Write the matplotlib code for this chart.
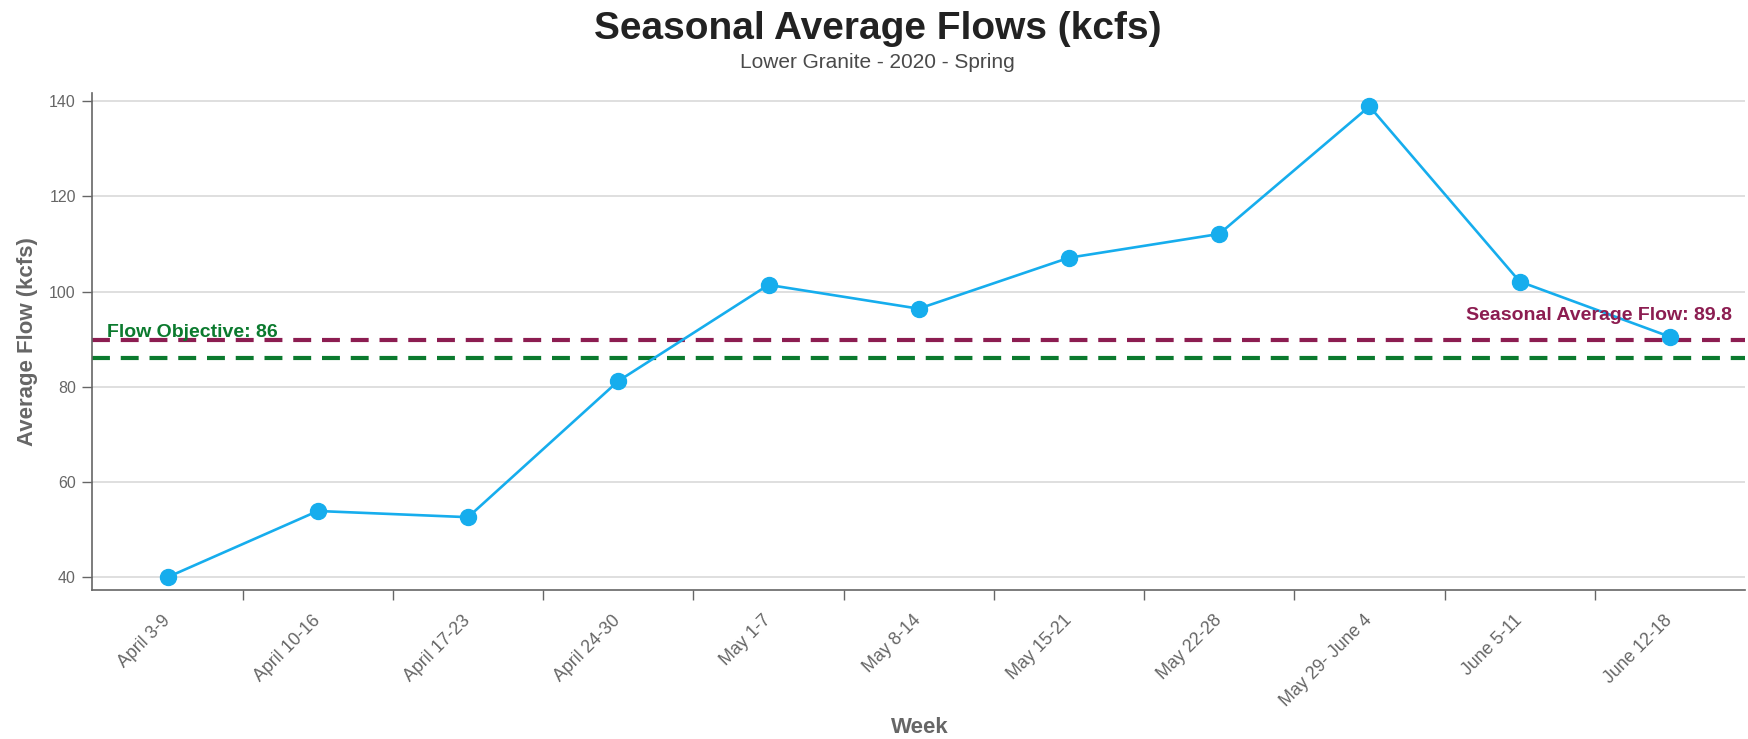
import matplotlib
matplotlib.use('Agg')
import matplotlib.pyplot as plt
from matplotlib.ticker import FixedLocator

plt.rcParams['font.family'] = ['Liberation Sans', 'DejaVu Sans']

# data
weeks = ['April 3-9', 'April 10-16', 'April 17-23', 'April 24-30', 'May 1-7',
         'May 8-14', 'May 15-21', 'May 22-28', 'May 29- June 4', 'June 5-11',
         'June 12-18']
flows = [40.0, 53.9, 52.6, 81.2, 101.4, 96.4, 107.1, 112.1, 138.9, 102.1, 90.5]
seasonal_avg = 89.8
flow_objective = 86

line_color = '#16aded'
avg_color = '#8c1d51'
obj_color = '#0b7a2e'
axis_gray = '#666666'

fig = plt.figure(figsize=(17.48, 7.39), dpi=100)
ax = fig.add_axes([0.0529, 0.2016, 0.9454, 0.6725])

x = list(range(len(weeks)))
ax.set_xlim(-0.5, len(weeks) - 0.5)
ax.set_ylim(37.3, 141.7)

# grid
ax.set_yticks([40, 60, 80, 100, 120, 140])
ax.grid(axis='y', color='#d9d9d9', linewidth=1.2, zorder=0)

# reference lines
ax.axhline(seasonal_avg, color=avg_color, linewidth=3, dashes=(4.3, 2.6), zorder=2)
ax.axhline(flow_objective, color=obj_color, linewidth=3, dashes=(4.3, 2.6), zorder=2)

ax.plot(x, flows, color=line_color, linewidth=1.9, marker='o', markersize=11.5,
        zorder=3)

ax.text(-0.4, seasonal_avg + 0.7, 'Flow Objective: ' + str(flow_objective),
        color=obj_color, fontsize=14, fontweight='bold', va='baseline', ha='left',
        zorder=4)
ax.text(10.415, seasonal_avg + 4.2, 'Seasonal Average Flow: ' + str(seasonal_avg),
        color=avg_color, fontsize=14, fontweight='bold', va='baseline', ha='right',
        zorder=4)

# axes styling
for s in ['top', 'right']:
    ax.spines[s].set_visible(False)
for s in ['left', 'bottom']:
    ax.spines[s].set_color(axis_gray)
    ax.spines[s].set_linewidth(1.2)

ax.set_xticks(x)
ax.set_xticklabels(weeks, rotation=45, ha='right', va='center',
                   rotation_mode='anchor', fontsize=12.8, color=axis_gray)
ax.tick_params(axis='x', which='major', length=0, pad=20)
ax.xaxis.set_minor_locator(FixedLocator([i + 0.5 for i in x[:-1]]))
ax.tick_params(axis='x', which='minor', length=7, width=1, color=axis_gray)
ax.tick_params(axis='y', length=7, width=1, color=axis_gray, labelsize=11.5,
               labelcolor=axis_gray, pad=5)

ax.set_ylabel('Average Flow (kcfs)', fontsize=16, fontweight='bold', color=axis_gray)
ax.yaxis.set_label_coords(-0.033, 0.5)

fig.text(0.526, 0.016, 'Week', fontsize=16, fontweight='bold', color=axis_gray,
         ha='center', va='center')
fig.text(0.502, 0.961, 'Seasonal Average Flows (kcfs)', fontsize=28,
         fontweight='bold', color='#222222', ha='center', va='center')
fig.text(0.502, 0.916, 'Lower Granite - 2020 - Spring', fontsize=15,
         color='#4a4a4a', ha='center', va='center')

fig.savefig('out.png', dpi=100)
